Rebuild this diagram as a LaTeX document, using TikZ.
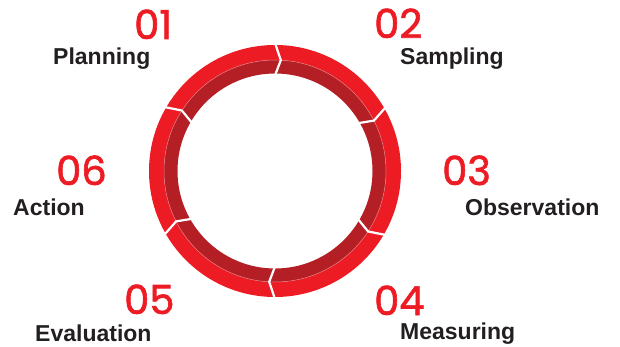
\documentclass[tikz,border=0pt]{standalone}
\usepackage{fontspec}
\setmainfont{Liberation Sans}
\newfontfamily\numfont[FakeBold=1.6]{Poppins}
\definecolor{brightred}{HTML}{ED1C24}
\definecolor{darkred}{HTML}{B41F25}
\definecolor{seamred}{HTML}{E57C7E}
\definecolor{labelgray}{HTML}{231F20}
\tikzset{
  numlabel/.style={anchor=base west, inner sep=0pt, text=brightred, font=\numfont\fontsize{40}{40}\selectfont},
  steplabel/.style={anchor=base west, inner sep=0pt, text=labelgray, font=\bfseries\fontsize{23}{23}\selectfont},
  gapline/.style={white, line width=2.2pt, line join=miter},
}
\begin{document}
\begin{tikzpicture}[x=1pt,y=1pt]
\useasboundingbox (0,0) rectangle (620,346);
\coordinate (c) at (275,175);
% outer bright band and inner dark band
\fill[brightred, even odd rule] (c) circle (126) (c) circle (111);
\fill[darkred, even odd rule] (c) circle (111) (c) circle (97.5);
\draw[seamred, line width=0.5pt] (c) circle (111);
% chevron gaps between the six segments
\foreach \a in {90,30,-30,-90,-150,150}{
  \draw[gapline] ([shift={(\a:128)}]c) -- ([shift={(\a-3:111)}]c) -- ([shift={(\a:95.5)}]c);
}
% numbers
\node[numlabel] (n1) at (134,307) {01};
\node[numlabel] (n2) at (374,308) {02};
\node[numlabel] (n3) at (442,161) {03};
\node[numlabel] (n4) at (374,31) {04};
\node[numlabel] (n5) at (124,32) {05};
\node[numlabel] (n6) at (56,161) {06};
% labels
\node[steplabel] (l1) at (53,281) {Planning};
\node[steplabel] (l2) at (400,281) {Sampling};
\node[steplabel] (l3) at (465,131) {Observation};
\node[steplabel] (l4) at (400,7) {Measuring};
\node[steplabel] (l5) at (35,5) {Evaluation};
\node[steplabel] (l6) at (13,131) {Action};
\end{tikzpicture}
\end{document}
